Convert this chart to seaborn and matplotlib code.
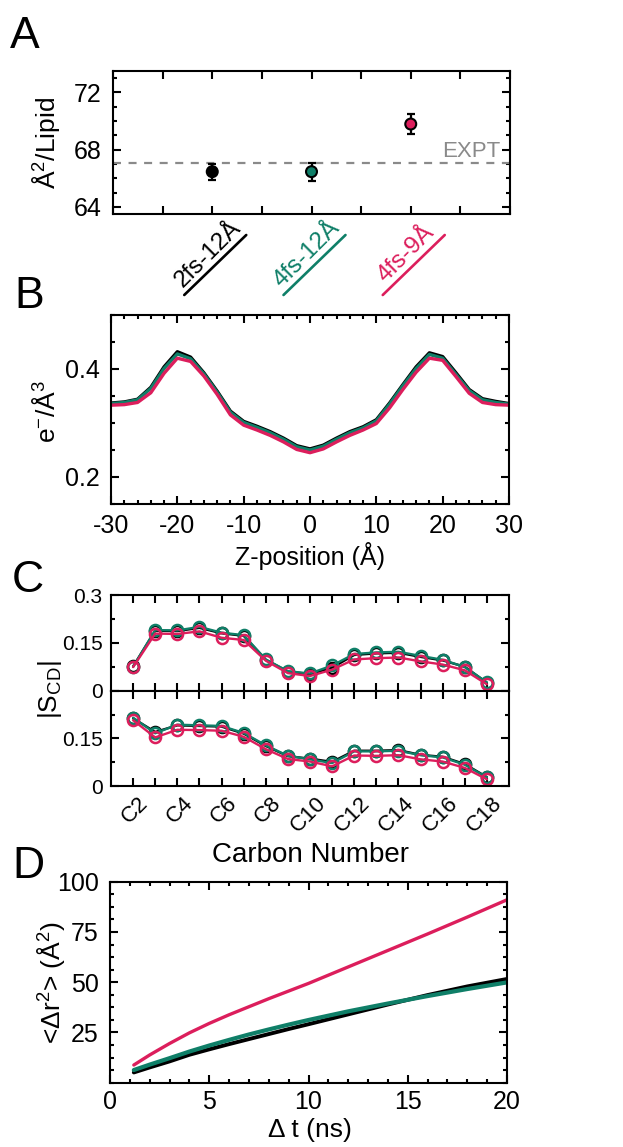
import numpy as np
import pandas as pd
import matplotlib
matplotlib.use("Agg")
import matplotlib.pyplot as plt
from matplotlib.ticker import MultipleLocator, FixedLocator, NullFormatter
from matplotlib.lines import Line2D
from matplotlib.transforms import IdentityTransform, ScaledTranslation
import seaborn as sns

# ---------------- data ----------------
systems = ["2fs-12Å", "4fs-12Å", "4fs-9Å"]
colors = ["#000000", "#0F7F68", "#DC1E5C"]

# (A) area per lipid
area_mean = [66.46, 66.46, 69.79]
area_err = [0.56, 0.63, 0.71]
area_expt = 67.1

# (B) electron density profiles
z_pos = list(range(-30, 31, 2))
edp_2fs12 = [0.337, 0.339, 0.344, 0.366, 0.404, 0.432, 0.422, 0.393, 0.359, 0.322, 0.303,
             0.294, 0.284, 0.272, 0.258, 0.252, 0.259, 0.272, 0.284, 0.293, 0.306,
             0.337, 0.371, 0.404, 0.430, 0.423, 0.393, 0.362, 0.345, 0.340, 0.336]
edp_4fs12 = [0.336, 0.338, 0.343, 0.364, 0.401, 0.428, 0.419, 0.391, 0.357, 0.320, 0.301,
             0.292, 0.282, 0.270, 0.256, 0.250, 0.257, 0.270, 0.282, 0.291, 0.304,
             0.335, 0.369, 0.401, 0.427, 0.420, 0.390, 0.360, 0.343, 0.338, 0.335]
edp_4fs9 = [0.333, 0.334, 0.338, 0.356, 0.392, 0.420, 0.414, 0.387, 0.353, 0.315, 0.296,
            0.287, 0.277, 0.265, 0.251, 0.245, 0.252, 0.265, 0.277, 0.287, 0.299,
            0.328, 0.362, 0.394, 0.420, 0.416, 0.386, 0.355, 0.338, 0.334, 0.333]

# (C) deuterium order parameters, two chains
carbons = list(range(2, 19))
carbon_labels = ["C2", "", "C4", "", "C6", "", "C8", "", "C10", "", "C12", "",
                 "C14", "", "C16", "", "C18"]
scd_top_2fs12 = [0.076, 0.188, 0.187, 0.197, 0.180, 0.172, 0.097, 0.060, 0.052, 0.072,
                 0.112, 0.117, 0.119, 0.106, 0.095, 0.075, 0.025]
scd_top_4fs12 = [0.075, 0.190, 0.189, 0.200, 0.182, 0.174, 0.098, 0.061, 0.054, 0.079,
                 0.115, 0.120, 0.122, 0.109, 0.097, 0.074, 0.026]
scd_top_4fs9 = [0.074, 0.179, 0.178, 0.186, 0.166, 0.159, 0.094, 0.055, 0.046, 0.066,
                0.098, 0.102, 0.104, 0.092, 0.082, 0.064, 0.020]
scd_bot_2fs12 = [0.213, 0.170, 0.191, 0.189, 0.187, 0.165, 0.126, 0.094, 0.086, 0.076,
                 0.111, 0.111, 0.113, 0.098, 0.092, 0.069, 0.028]
scd_bot_4fs12 = [0.215, 0.166, 0.193, 0.191, 0.189, 0.167, 0.128, 0.095, 0.084, 0.072,
                 0.109, 0.109, 0.111, 0.097, 0.090, 0.067, 0.027]
scd_bot_4fs9 = [0.207, 0.153, 0.177, 0.176, 0.174, 0.155, 0.116, 0.085, 0.077, 0.062,
                0.096, 0.095, 0.097, 0.084, 0.077, 0.057, 0.021]

# (D) lateral mean squared displacement
msd_t = [1.2, 2, 3, 4, 5, 6, 7, 8, 9, 10, 12, 14, 16, 18, 20]
msd_2fs12 = [5.1, 7.6, 10.6, 13.9, 16.6, 19.2, 21.7, 24.2, 26.7, 29.1, 34.0, 38.9, 43.6, 47.9, 51.6]
msd_4fs12 = [6.3, 9.0, 12.2, 15.5, 18.5, 21.3, 24.0, 26.5, 28.9, 31.2, 35.5, 39.4, 43.1, 46.6, 49.9]
msd_4fs9 = [8.8, 13.8, 19.5, 24.8, 29.5, 33.8, 37.8, 41.8, 45.6, 49.4, 57.6, 65.8, 74.0, 82.4, 91.0]

# ---------------- style ----------------
sns.set_theme(style="ticks")
plt.rcParams.update({
    "font.family": ["Liberation Sans", "DejaVu Sans"],
    "mathtext.fontset": "custom",
    "mathtext.rm": "Liberation Sans",
    "mathtext.it": "Liberation Sans:italic",
    "mathtext.bf": "Liberation Sans:bold",
    "mathtext.default": "rm",
    "axes.unicode_minus": False,
    "axes.linewidth": 1.5,
    "axes.edgecolor": "black",
    "xtick.direction": "in", "ytick.direction": "in",
    "xtick.top": True, "ytick.right": True,
    "xtick.bottom": True, "ytick.left": True,
    "xtick.major.size": 5.5, "ytick.major.size": 5.5,
    "xtick.minor.size": 3.2, "ytick.minor.size": 3.2,
    "xtick.major.width": 1.5, "ytick.major.width": 1.5,
    "xtick.minor.width": 1.5, "ytick.minor.width": 1.5,
    "xtick.color": "black", "ytick.color": "black",
    "text.color": "black", "axes.labelcolor": "black",
})

W, H = 623, 1147
fig = plt.figure(figsize=(W / 100, H / 100), dpi=100)


def px_axes(x0, y0, x1, y1):
    return fig.add_axes([x0 / W, 1 - y1 / H, (x1 - x0) / W, (y1 - y0) / H])


def fig_text(x, y, s, **kw):
    return fig.text(x / W, 1 - y / H, s, **kw)


# ---------------- (A) ----------------
axA = px_axes(113, 71, 510, 214)
xs = [1, 2, 3]
axA.errorbar(xs, area_mean, yerr=area_err, fmt="none", ecolor="black",
             elinewidth=1.6, capsize=2.8, capthick=1.6, zorder=2)
sns.scatterplot(x=xs, y=area_mean, hue=systems, palette=colors, s=62,
                edgecolor="black", linewidth=1.5, legend=False, ax=axA, zorder=3)
axA.axhline(area_expt, color="#8a8a8a", lw=1.6, ls=(0, (3.6, 3.4)), zorder=1)
axA.text(0.975, area_expt + 0.05, "EXPT", color="#8a8a8a", fontsize=16,
         ha="right", va="bottom", transform=axA.get_yaxis_transform())
axA.set_xlim(0, 4)
axA.set_ylim(63.5, 73.5)
axA.xaxis.set_major_locator(MultipleLocator(0.5))
axA.xaxis.set_major_formatter(NullFormatter())
axA.yaxis.set_major_locator(FixedLocator([64, 68, 72]))
axA.yaxis.set_minor_locator(MultipleLocator(1))
axA.tick_params(axis="y", labelsize=18, pad=8)
axA.set_xlabel("")
axA.set_ylabel("")

# rotated, underlined category labels
fig.canvas.draw()
xt = axA.get_xaxis_transform()
for i, (name, c) in enumerate(zip(systems, colors)):
    px, py = xt.transform((xs[i], 0))
    axA.annotate(name, xy=(xs[i], 0), xycoords=xt, xytext=(0, -44),
                 textcoords="offset pixels", rotation=45, rotation_mode="anchor",
                 ha="center", va="baseline", fontsize=17.5, color=c,
                 annotation_clip=False)
    fig.add_artist(Line2D([px - 28, px + 34], [py - 81, py - 21], color=c, lw=1.9,
                          transform=IdentityTransform()))

# ---------------- (B) ----------------
axB = px_axes(111, 315, 509, 504)
edp = pd.DataFrame({
    "z": z_pos * 3,
    "density": edp_2fs12 + edp_4fs12 + edp_4fs9,
    "system": [systems[0]] * len(z_pos) + [systems[1]] * len(z_pos) + [systems[2]] * len(z_pos),
})
sns.lineplot(data=edp, x="z", y="density", hue="system", hue_order=systems,
             palette=colors, lw=2.4, legend=False, ax=axB)
axB.set_xlim(-30, 30)
axB.set_ylim(0.15, 0.5)
axB.xaxis.set_major_locator(MultipleLocator(10))
axB.xaxis.set_minor_locator(MultipleLocator(2))
axB.yaxis.set_major_locator(FixedLocator([0.2, 0.4]))
axB.yaxis.set_minor_locator(MultipleLocator(0.05))
axB.tick_params(labelsize=18)
axB.tick_params(axis="y", pad=8)
axB.tick_params(axis="x", pad=7)
axB.set_xlabel("")
axB.set_ylabel("")

# ---------------- (C) ----------------
axC1 = px_axes(111, 595, 509, 690.7)
axC2 = px_axes(111, 690.7, 509, 786)
for ax, series in ((axC1, (scd_top_2fs12, scd_top_4fs12, scd_top_4fs9)),
                   (axC2, (scd_bot_2fs12, scd_bot_4fs12, scd_bot_4fs9))):
    for vals, c in zip(series, colors):
        sns.lineplot(x=carbons, y=vals, color=c, lw=1.7, marker="o", markersize=8,
                     markerfacecolor="none", markeredgecolor=c, markeredgewidth=1.8,
                     ax=ax)
    ax.set_xlim(1, 19)
    ax.set_ylim(0, 0.3)
    ax.xaxis.set_major_locator(FixedLocator(carbons))
    ax.yaxis.set_minor_locator(FixedLocator([0.075, 0.225]))
    ax.tick_params(axis="y", labelsize=15, pad=6)
    ax.tick_params(axis="x", which="major", length=6)
    ax.set_xlabel("")
    ax.set_ylabel("")
axC1.yaxis.set_major_locator(FixedLocator([0, 0.15, 0.3]))
axC1.set_yticklabels(["0", "0.15", "0.3"])
axC1.xaxis.set_major_formatter(NullFormatter())
axC2.yaxis.set_major_locator(FixedLocator([0, 0.15, 0.3]))
axC2.set_yticklabels(["0", "0.15", ""])
axC2.set_xticks(carbons)
axC2.set_xticklabels(carbon_labels, rotation=45, ha="right", va="top",
                     rotation_mode="anchor", fontsize=16)
axC2.tick_params(axis="x", pad=5)
shift = ScaledTranslation(5 / 100, 0, fig.dpi_scale_trans)
for lab in axC2.get_xticklabels():
    lab.set_transform(lab.get_transform() + shift)

# ---------------- (D) ----------------
axD = px_axes(110, 881.7, 507, 1082.7)
msd = pd.DataFrame({
    "t": msd_t * 3,
    "msd": msd_2fs12 + msd_4fs12 + msd_4fs9,
    "system": [systems[0]] * len(msd_t) + [systems[1]] * len(msd_t) + [systems[2]] * len(msd_t),
})
for name, c, lw in zip(systems, colors, (2.8, 3.0, 2.4)):
    sns.lineplot(data=msd[msd["system"] == name], x="t", y="msd", color=c, lw=lw, ax=axD)
axD.set_xlim(0, 20)
axD.set_ylim(0, 100)
axD.xaxis.set_major_locator(MultipleLocator(5))
axD.xaxis.set_minor_locator(MultipleLocator(1))
axD.yaxis.set_major_locator(FixedLocator([25, 50, 75, 100]))
axD.yaxis.set_minor_locator(MultipleLocator(6.25))
axD.tick_params(labelsize=18)
axD.tick_params(axis="y", pad=8)
axD.tick_params(axis="x", pad=5)
axD.set_xlabel("")
axD.set_ylabel("")

# ---------------- labels ----------------
fig_text(46, 143, "Å$^2$/Lipid", rotation=90, ha="center", va="center", fontsize=19)
fig_text(46, 411, "e$^{-}$/Å$^3$", rotation=90, ha="center", va="center", fontsize=19)
fig_text(310, 556, "Z-position (Å)", ha="center", va="center", fontsize=18)
fig_text(50, 690, "|S$_{CD}$|", rotation=90, ha="center", va="center", fontsize=19)
fig_text(311, 855, "Carbon Number", ha="center", va="center", fontsize=20)
fig_text(51, 983, "<Δr$^2$> (Å$^2$)", rotation=90, ha="center", va="center", fontsize=19)
fig_text(310, 1130, "Δ t (ns)", ha="center", va="center", fontsize=19)

for letter, x, y in (("A", 10, 48), ("B", 14, 308), ("C", 12, 592), ("D", 12, 878)):
    fig_text(x, y, letter, fontsize=32, ha="left", va="baseline")

fig.savefig("out.png", dpi=100)
